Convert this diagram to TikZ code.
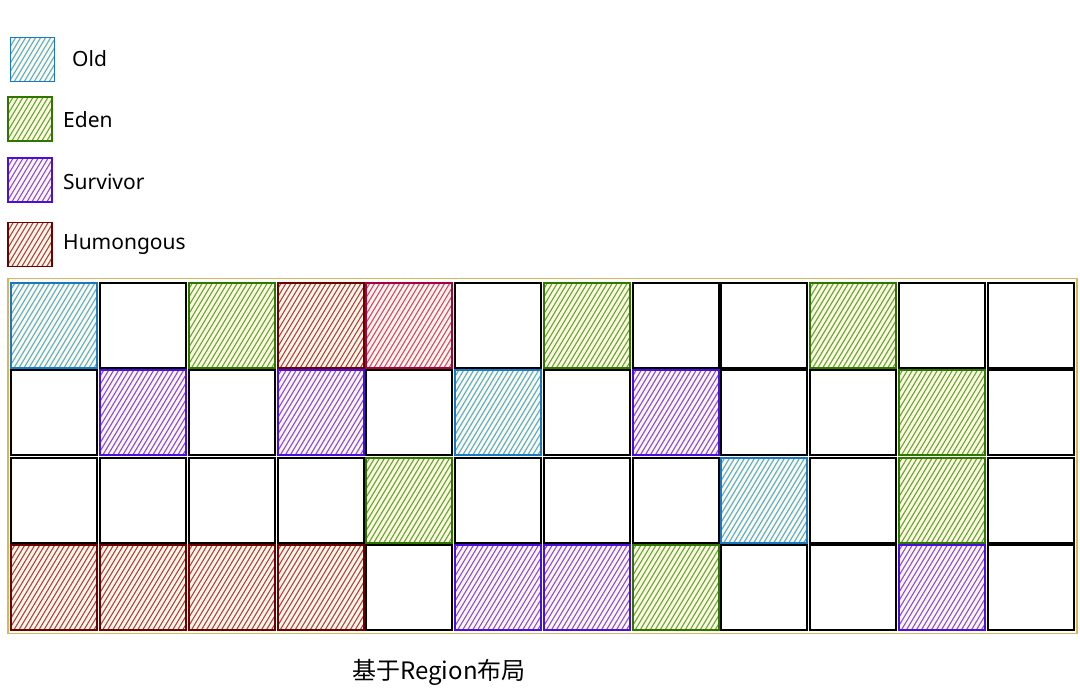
\documentclass[tikz,border=0pt]{standalone}
\usepackage{fontspec}
\setmainfont{Noto Sans}
\newfontfamily\cjkfont{Noto Sans CJK SC}
\definecolor{oldS}{HTML}{1A78C2}
\definecolor{oldH}{HTML}{4FAEE6}
\definecolor{edenS}{HTML}{2D7600}
\definecolor{edenH}{HTML}{5FA832}
\definecolor{survS}{HTML}{4A0FE0}
\definecolor{survH}{HTML}{8A45FF}
\definecolor{humS}{HTML}{6F0000}
\definecolor{humH}{HTML}{B23A4A}
\definecolor{pinkS}{HTML}{A50040}
\definecolor{pinkH}{HTML}{DA3C7E}
\definecolor{cream}{HTML}{FFF8E2}
\definecolor{gold}{HTML}{D6B656}
\tikzset{
  hatch/.style={fill=cream, path picture={
    \foreach \k in {-115,-110,...,50}{
      \draw[#1, line width=1.1pt] ([shift={(\k pt,-50pt)}]path picture bounding box.center) -- ++(60pt,100pt);
    }}},
  cell/.style={draw, line width=1.9pt, inner sep=0pt, outer sep=0pt, minimum width=86pt, minimum height=85pt},
  cN/.style={draw=black, fill=white},
  cO/.style={draw=oldS, hatch=oldH},
  cE/.style={draw=edenS, hatch=edenH},
  cS/.style={draw=survS, hatch=survH},
  cH/.style={draw=humS, hatch=humH},
  cP/.style={draw=pinkS, hatch=pinkH},
  kind/.style={c#1},
  legbox/.style={cell, minimum width=44pt, minimum height=44pt},
  legtext/.style={anchor=west, inner sep=0pt, font=\fontsize{21}{25}\selectfont},
}
\begin{document}
\begin{tikzpicture}[x=1pt, y=-1pt]
\useasboundingbox (0,0) rectangle (1080,694);
% legend
\node[legbox, cO] (lo) at (32.5,59.5) {};
\node[legbox, cE] (le) at (30,119) {};
\node[legbox, cS] (ls) at (30,180) {};
\node[legbox, cH] (lh) at (30,244.5) {};
\node[legtext] (to) at (72,59) {Old};
\node[legtext] (te) at (63,120) {Eden};
\node[legtext] (ts) at (63,182) {Survivor};
\node[legtext] (th) at (63,245) {Humongous};
% background
\node[draw=gold, line width=1.8pt, fill=white, inner sep=0pt, minimum width=1069pt, minimum height=355pt] (bg) at (542.5,456) {};
% cells
\foreach \row [count=\r from 0] in {{O,N,E,H,P,N,E,N,N,E,N,N},{N,S,N,S,N,O,N,S,N,N,E,N},{N,N,N,N,E,N,N,N,O,N,E,N},{H,H,H,H,N,S,S,E,N,N,S,N}}{
  \foreach \k [count=\c from 0] in \row {
    \node[cell, kind/.expanded=\k] (c-\r-\c) at ({54.4+88.75*\c},{325.5+87.3*\r}) {};
  }
}
\node[font=\cjkfont\fontsize{24}{28}\selectfont, inner sep=0pt] (cap) at (439,672) {基于Region布局};
\end{tikzpicture}
\end{document}
